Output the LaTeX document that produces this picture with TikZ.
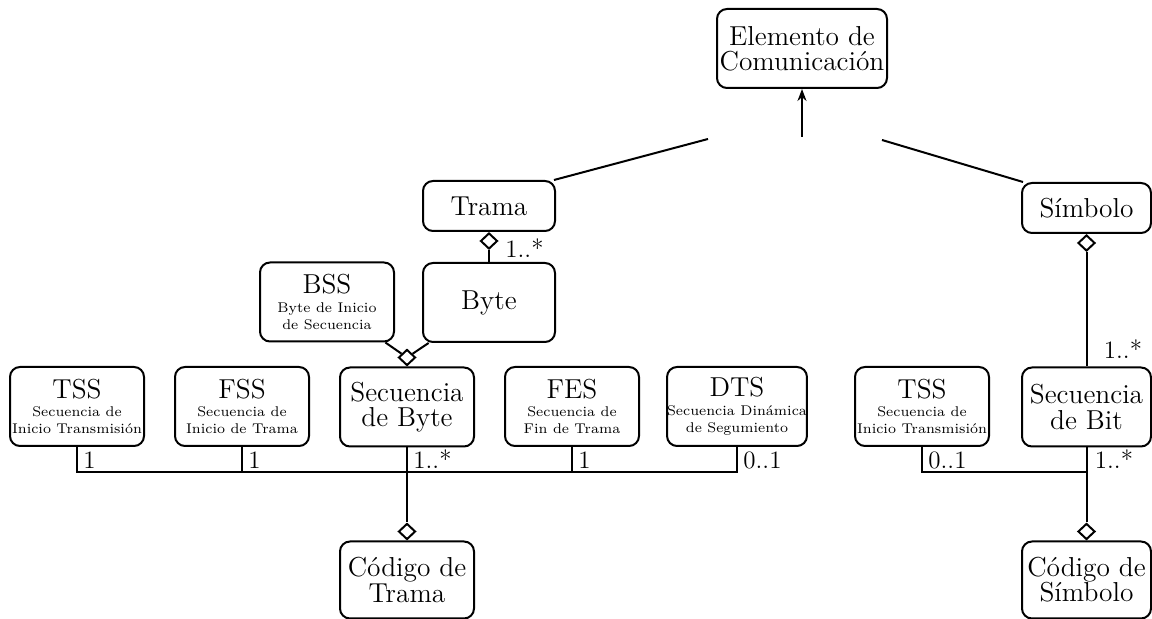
\documentclass[tikz,border=0pt]{standalone}
\usetikzlibrary{arrows.meta,shapes.geometric}
\newcommand\bigfnt{\fontsize{13.7}{12.6}\selectfont}
\newcommand\smallfnt{\fontsize{7.05}{8.7}\selectfont}
\newcommand\multfnt{\fontsize{12.5}{12}\selectfont}
\begin{document}
\begin{tikzpicture}[x=0.5pt,y=-0.5pt,
  box/.style={draw, line width=1pt, rounded corners=5pt, align=center,
    inner sep=0pt, minimum width=67pt, minimum height=39.5pt, font=\bigfnt},
  titled/.style={box, font=\smallfnt},
  shortbox/.style={box, minimum height=25pt},
  agg/.style={draw, line width=1pt, fill=white, diamond, aspect=1.05,
    inner sep=0pt, minimum width=8.5pt, minimum height=8pt},
  conn/.style={line width=1pt},
  mult/.style={font=\multfnt, inner sep=0pt, anchor=base west}]
\useasboundingbox (0,0) rectangle (1152,619);

% classes
\node[box, minimum width=85pt] (elem) at (802,48.5) {Elemento de\\Comunicación};
\node[shortbox, minimum width=66pt] (trama) at (489,206) {Trama};
\node[shortbox, minimum width=64.5pt] (simb) at (1086.5,208) {Símbolo};
\node[box, minimum width=66pt] (byte) at (489,302.5) {Byte};
\node[titled] (bss) at (327,302) {{\bigfnt BSS}\\[0.5pt]Byte de Inicio\\de Secuencia};
\node[titled] (tssa) at (77,406.5) {{\bigfnt TSS}\\[0.5pt]Secuencia de\\Inicio Transmisión};
\node[titled] (fss) at (242,406.5) {{\bigfnt FSS}\\[0.5pt]Secuencia de\\Inicio de Trama};
\node[box] (sbyte) at (407,407) {Secuencia\\de Byte};
\node[titled] (fes) at (572,406.5) {{\bigfnt FES}\\[0.5pt]Secuencia de\\Fin de Trama};
\node[titled] (dts) at (737,406.5) {{\bigfnt DTS}\\[0.5pt]Secuencia Dinámica\\de Segumiento};
\node[titled] (tssb) at (922,406.5) {{\bigfnt TSS}\\[0.5pt]Secuencia de\\Inicio Transmisión};
\node[box, minimum width=64.5pt] (sbit) at (1086.5,407) {Secuencia\\de Bit};
\node[box, minimum height=38.5pt] (codt) at (407,580) {Código de\\Trama};
\node[box, minimum width=64.5pt, minimum height=38.5pt] (cods) at (1086.5,580) {Código de\\Símbolo};

% aggregation diamonds
\node[agg, anchor=north] (dtrama) at (trama.south) {};
\node[agg, anchor=north] (dsimb) at (simb.south) {};
\node[agg, anchor=south] (dsbyte) at (sbyte.north) {};
\node[agg, anchor=south] (dcodt) at (codt.north) {};
\node[agg, anchor=south] (dcods) at (cods.north) {};

% generalization
\coordinate (gtip) at (802,137);
\coordinate (gl) at (708,139);
\coordinate (gr) at (882,140);
\draw[conn, -{Stealth[length=6pt,width=4.5pt]}] (gtip) -- (elem.south);
\draw[conn] (gl) -- ([xshift=-1pt]trama.north east);
\draw[conn] (gr) -- ([xshift=1pt]simb.north west);

% compositions
\draw[conn] (dtrama.south) -- (byte.north);
\draw[conn] (dsimb.south) -- (sbit.north);
\draw[conn] (bss) -- (dsbyte);
\draw[conn] (byte) -- (dsbyte);

% left bus
\coordinate (bus) at (0,472);
\draw[conn] (tssa.south) |- (bus -| dts.south) -- (dts.south);
\draw[conn] (fss.south) -- (fss.south |- bus);
\draw[conn] (fes.south) -- (fes.south |- bus);
\draw[conn] (sbyte.south) -- (dcodt.north);

% right bus
\draw[conn] (tssb.south) |- (bus -| sbit.south);
\draw[conn] (sbit.south) -- (dcods.north);

% multiplicities
\node[mult] (m1) at ([xshift=3pt]tssa.south |- 0,469) {1};
\node[mult] (m2) at ([xshift=3pt]fss.south |- 0,469) {1};
\node[mult] (m3) at ([xshift=3pt]sbyte.south |- 0,469) {1..*};
\node[mult] (m4) at ([xshift=3pt]fes.south |- 0,469) {1};
\node[mult] (m5) at ([xshift=3pt]dts.south |- 0,469) {0..1};
\node[mult] (m6) at ([xshift=3pt]tssb.south |- 0,469) {0..1};
\node[mult] (m7) at ([xshift=4pt]sbit.south |- 0,469) {1..*};
\node[mult] (m8) at ([xshift=8.5pt]sbit.north |- 0,359) {1..*};
\node[mult] (m9) at ([xshift=8pt]byte.north |- 0,258) {1..*};
\end{tikzpicture}
\end{document}
